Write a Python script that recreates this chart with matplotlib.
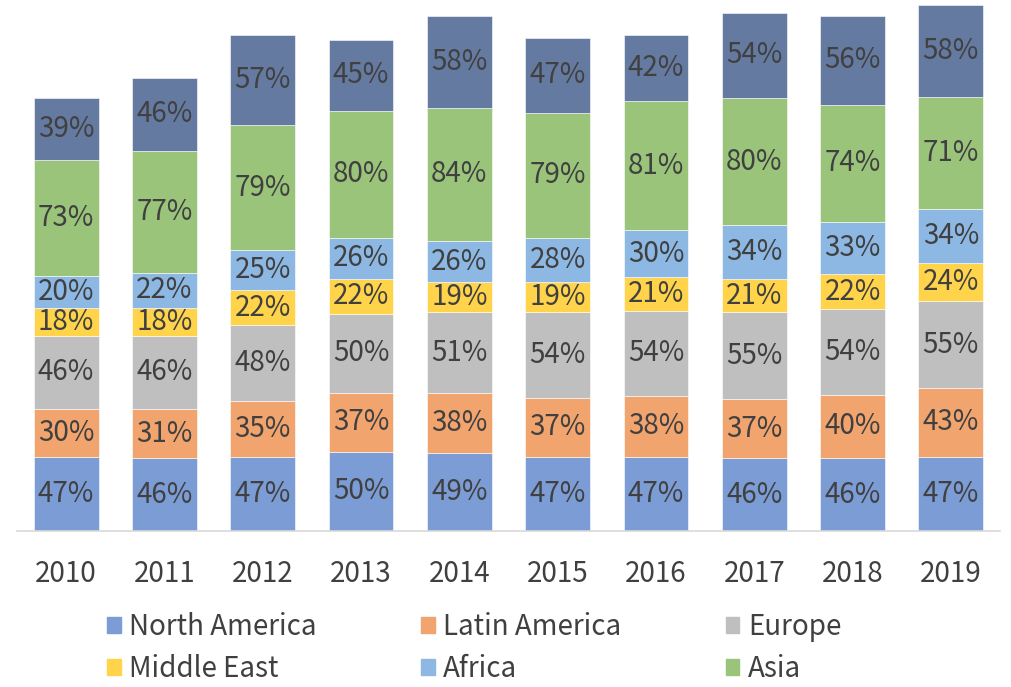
import matplotlib.pyplot as plt
import numpy as np
from matplotlib.patches import Patch

plt.rcParams['font.family'] = ['Noto Sans CJK SC', 'DejaVu Sans']

years = ["2010", "2011", "2012", "2013", "2014", "2015", "2016", "2017", "2018", "2019"]

north_america = [47, 46, 47, 50, 49, 47, 47, 46, 46, 47]
latin_america = [30, 31, 35, 37, 38, 37, 38, 37, 40, 43]
europe = [46, 46, 48, 50, 51, 54, 54, 55, 54, 55]
middle_east = [18, 18, 22, 22, 19, 19, 21, 21, 22, 24]
africa = [20, 22, 25, 26, 26, 28, 30, 34, 33, 34]
asia = [73, 77, 79, 80, 84, 79, 81, 80, 74, 71]
other = [39, 46, 57, 45, 58, 47, 42, 54, 56, 58]

series = [
    ("North America", north_america, "#7b9cd5"),
    ("Latin America", latin_america, "#f1a46e"),
    ("Europe", europe, "#bfbfbf"),
    ("Middle East", middle_east, "#ffd44b"),
    ("Africa", africa, "#8cb8e3"),
    ("Asia", asia, "#9bc47b"),
    (None, other, "#657aa1"),
]

text_col = "#404040"

fig = plt.figure(figsize=(10.11, 6.87), dpi=100)
ax = fig.add_axes([17 / 1011, (687 - 531) / 687, 983 / 1011, 531 / 687])

x = np.arange(len(years))
bottom = np.zeros(len(years))
for name, vals, col in series:
    vals = np.array(vals)
    ax.bar(x, vals, width=0.66, bottom=bottom, color=col,
           edgecolor="white", linewidth=0.4)
    for xi, b, v in zip(x, bottom, vals):
        ax.text(xi, b + v / 2, "{}%".format(v), ha="center", va="center",
                fontsize=20, color=text_col)
    bottom += vals

ax.set_xlim(-0.5, 9.5)
ax.set_ylim(0, 335)
ax.set_yticks([])
ax.set_xticks(x)
ax.set_xticklabels(years, fontsize=20, color=text_col)
ax.tick_params(axis="x", length=0, pad=20)
for s in ["top", "right", "left"]:
    ax.spines[s].set_visible(False)
ax.spines["bottom"].set_color("#d9d9d9")
ax.spines["bottom"].set_linewidth(1.2)

handles = [Patch(color=col, label=name) for name, vals, col in series if name]
order = [0, 3, 1, 4, 2, 5]
fig.legend([handles[i] for i in order], [handles[i].get_label() for i in order],
           loc="center", bbox_to_anchor=(0.469, 0.057), ncol=3, frameon=False,
           fontsize=20, handlelength=0.5, handleheight=0.5, handletextpad=0.3,
           columnspacing=3.75, labelspacing=0.45, labelcolor=text_col,
           borderaxespad=0.0, borderpad=0.1)

plt.savefig("out.png", dpi=100)
